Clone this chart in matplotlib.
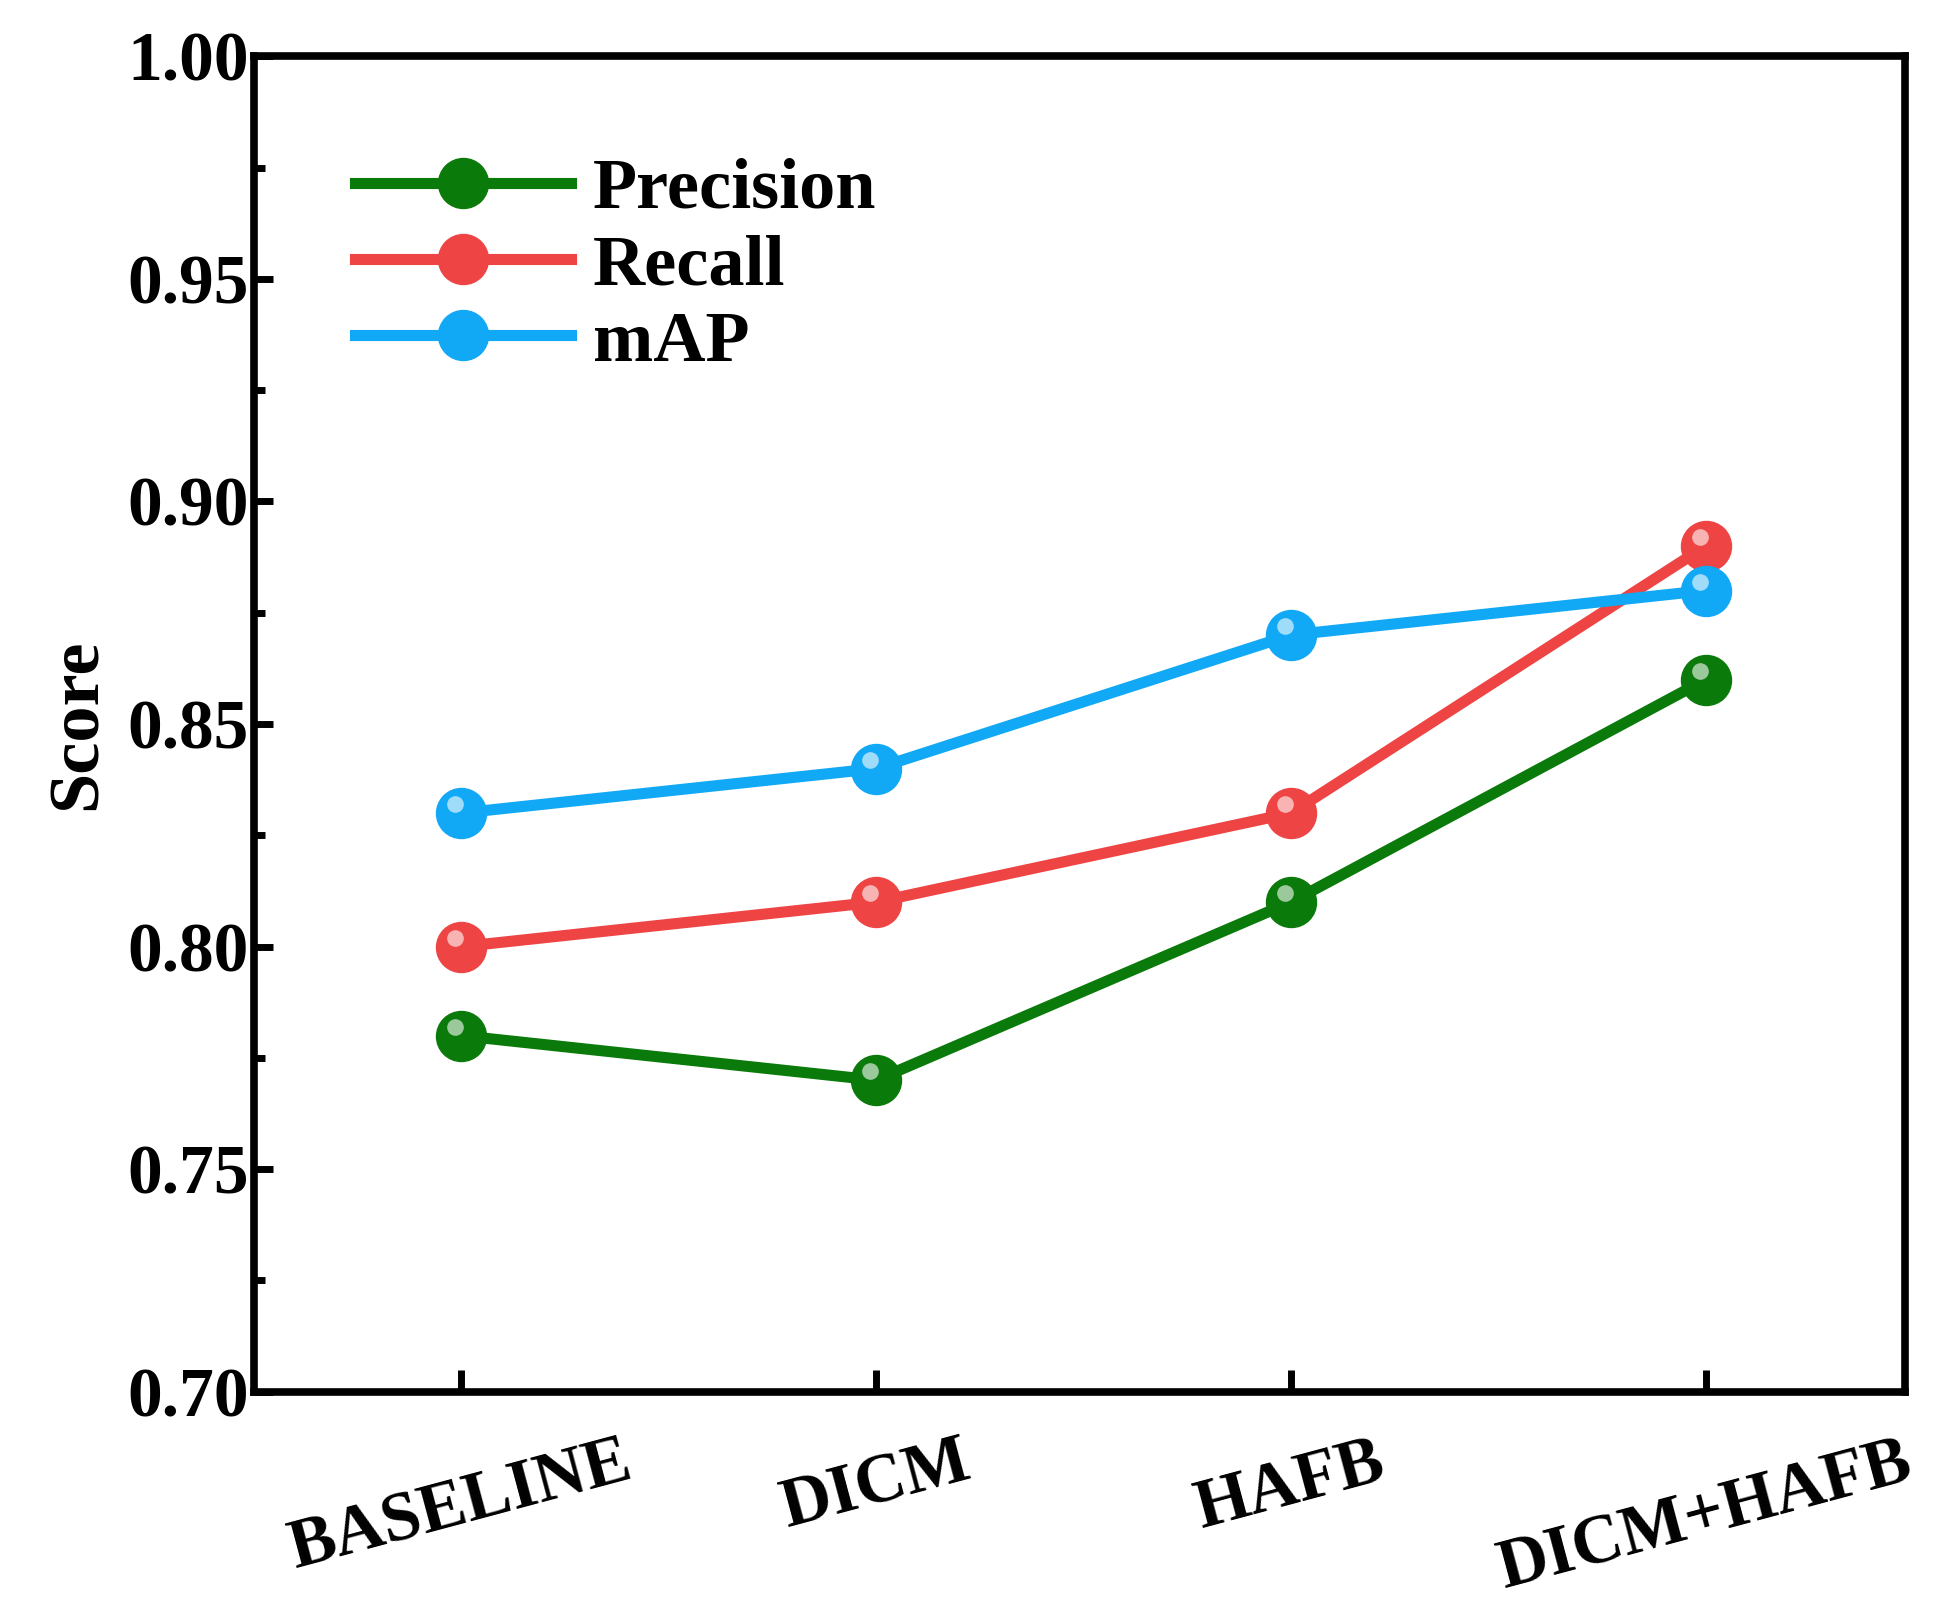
import matplotlib.pyplot as plt
from matplotlib.ticker import MultipleLocator

categories = ['BASELINE', 'DICM', 'HAFB', 'DICM+HAFB']
precision = [0.78, 0.77, 0.81, 0.86]
recall = [0.80, 0.81, 0.83, 0.89]
map_vals = [0.83, 0.84, 0.87, 0.88]

plt.rcParams['font.family'] = ['Liberation Serif', 'DejaVu Serif']
plt.rcParams['font.weight'] = 'bold'

fig = plt.figure(figsize=(19.36, 16.09), dpi=100)
ax = fig.add_axes([0.131, 0.135, 0.853, 0.83])

x = list(range(len(categories)))
series = [(precision, '#0a7a0a', 'Precision'),
          (recall, '#ee4444', 'Recall'),
          (map_vals, '#11a8f5', 'mAP')]
for vals, col, lab in series:
    ax.plot(x, vals, color=col, lw=8, marker='o', ms=36, mfc=col, mec=col, label=lab)
    # highlight to fake sphere shading
    ax.plot([xi - 0.015 for xi in x], [v + 0.002 for v in vals], ls='none', marker='o',
            ms=12, mfc='white', mec='none', alpha=0.6)

ax.set_xlim(-0.5, 3.48)
ax.set_ylim(0.70, 1.00)
ax.set_xticks(x)
ax.set_xticklabels(categories, rotation=15, fontsize=50, fontweight='bold')
ax.yaxis.set_major_locator(MultipleLocator(0.05))
ax.yaxis.set_minor_locator(MultipleLocator(0.025))
ax.yaxis.set_major_formatter(plt.FormatStrFormatter('%.2f'))
ax.tick_params(axis='y', direction='in', labelsize=50, width=5, length=14)
ax.tick_params(axis='y', which='minor', direction='in', width=5, length=8)
ax.tick_params(axis='x', direction='in', width=5, length=16, pad=28)
for lab in ax.get_yticklabels():
    lab.set_fontweight('bold')
ax.set_ylabel('Score', fontsize=52, fontweight='bold', labelpad=12)
for s in ax.spines.values():
    s.set_linewidth(5.5)

ax.legend(loc='upper left', frameon=False, handlelength=3.0, handletextpad=0.3,
          borderaxespad=0.6, borderpad=0.8, labelspacing=0.15,
          prop={'weight': 'bold', 'size': 52})

fig.savefig('out.png')
